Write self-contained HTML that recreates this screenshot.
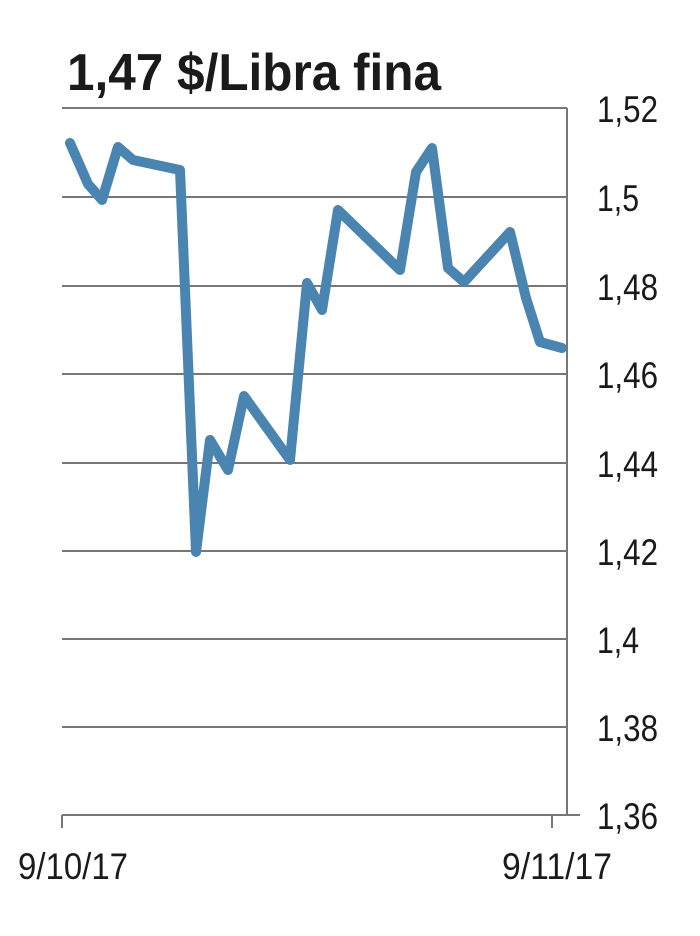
<!DOCTYPE html>
<html><head><style>body{margin:0;background:#fff}</style></head><body>
<svg width="700" height="931" xmlns="http://www.w3.org/2000/svg" font-family="Liberation Sans, sans-serif">
<rect width="700" height="931" fill="#fff"/>
<text x="67" y="90" font-size="52" font-weight="bold" fill="#1a1a1a" textLength="374" lengthAdjust="spacingAndGlyphs">1,47 $/Libra fina</text>
<g stroke="#777" stroke-width="2">
<line x1="62" y1="108" x2="567" y2="108"/>
<line x1="62" y1="197" x2="567" y2="197"/>
<line x1="62" y1="286" x2="567" y2="286"/>
<line x1="62" y1="374" x2="567" y2="374"/>
<line x1="62" y1="463" x2="567" y2="463"/>
<line x1="62" y1="551" x2="567" y2="551"/>
<line x1="62" y1="639" x2="567" y2="639"/>
<line x1="62" y1="727" x2="567" y2="727"/>
<line x1="62" y1="815" x2="580" y2="815"/>
<line x1="567" y1="108" x2="567" y2="815"/>
<line x1="62" y1="815" x2="62" y2="828"/>
<line x1="552" y1="815" x2="552" y2="828"/>
</g>
<polyline fill="none" stroke="#4a84b0" stroke-width="10" stroke-linejoin="round" stroke-linecap="round"
points="70,143 88,184 102,200 118,147 133,160 180,170 196,552 210,440 228,470 244,396 290,460 307,283 322,310 338,210 400,270 416,172 432,148 448,268 464,282 510,232 526,298 540,342 562,348"/>
<g font-size="37" fill="#1a1a1a" lengthAdjust="spacingAndGlyphs">
<text x="597" y="122" textLength="61" lengthAdjust="spacingAndGlyphs">1,52</text>
<text x="597" y="211" textLength="42" lengthAdjust="spacingAndGlyphs">1,5</text>
<text x="597" y="300" textLength="61" lengthAdjust="spacingAndGlyphs">1,48</text>
<text x="597" y="388" textLength="61" lengthAdjust="spacingAndGlyphs">1,46</text>
<text x="597" y="477" textLength="61" lengthAdjust="spacingAndGlyphs">1,44</text>
<text x="597" y="565" textLength="61" lengthAdjust="spacingAndGlyphs">1,42</text>
<text x="597" y="653" textLength="42" lengthAdjust="spacingAndGlyphs">1,4</text>
<text x="597" y="741" textLength="61" lengthAdjust="spacingAndGlyphs">1,38</text>
<text x="597" y="829" textLength="61" lengthAdjust="spacingAndGlyphs">1,36</text>
<text x="18" y="879" textLength="110" lengthAdjust="spacingAndGlyphs">9/10/17</text>
<text x="502" y="879" textLength="110" lengthAdjust="spacingAndGlyphs">9/11/17</text>
</g>
</svg>
</body></html>
